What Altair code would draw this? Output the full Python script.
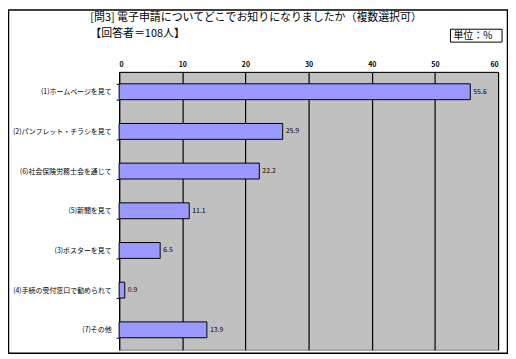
import altair as alt
import pandas as pd

categories = [
    "(1)ホームページを見て",
    "(2)パンフレット・チラシを見て",
    "(6)社会保険労務士会を通じて",
    "(5)新聞を見て",
    "(3)ポスターを見て",
    "(4)手続の受付窓口で勧められて",
    "(7)その他",
]
values = [55.6, 25.9, 22.2, 11.1, 6.5, 0.9, 13.9]
x_ticks = [0, 10, 20, 30, 40, 50, 60]
title_line1 = "[問3] 電子申請についてどこでお知りになりましたか（複数選択可）"
title_line2 = "【回答者＝108人】"
unit_label = "単位：%"

df = pd.DataFrame({"cat": categories, "val": values})
FONT = "Noto Sans CJK JP"
W, H = 382, 280

x_enc = alt.X("val:Q", scale=alt.Scale(domain=[0, 60], nice=False),
              axis=alt.Axis(orient="top", values=x_ticks, title=None, grid=True,
                            gridColor="black", gridWidth=1.2, domainColor="black",
                            ticks=False, labelFontSize=7, labelFont=FONT,
                            labelFontWeight="bold", labelPadding=4, labelColor="black"))
y_enc = alt.Y("cat:N", sort=categories,
              scale=alt.Scale(paddingInner=0.6, paddingOuter=0.3),
              axis=alt.Axis(title=None, labelFontSize=7, labelFont=FONT,
                            labelColor="black", labelPadding=5, labelLimit=200,
                            tickBand="extent",
                            tickSize=3, tickColor="black", domainColor="black",
                            domainWidth=1.2))

bars = alt.Chart(df).mark_bar(color="#9999FF", stroke="black", strokeWidth=1).encode(
    x=x_enc, y=y_enc)

labels = alt.Chart(df).mark_text(align="left", dx=3, fontSize=7, font=FONT,
                                 color="black").encode(
    x="val:Q", y=alt.Y("cat:N", sort=categories), text=alt.Text("val:Q", format=".1f"))

border = alt.Chart(pd.DataFrame({"a": [0]})).mark_rect(
    fill=None, stroke="black", strokeWidth=1.5).encode(
    x=alt.value(-111.5), x2=alt.value(W + 9.5), y=alt.value(-62.5), y2=alt.value(H + 3.5))

t1 = alt.Chart(pd.DataFrame({"t": [title_line1]})).mark_text(
    align="left", baseline="middle", fontSize=11, font=FONT, color="black").encode(
    x=alt.value(-29), y=alt.value(-54), text="t:N")
t2 = alt.Chart(pd.DataFrame({"t": [title_line2]})).mark_text(
    align="left", baseline="middle", fontSize=11, font=FONT, color="black").encode(
    x=alt.value(-29), y=alt.value(-38), text="t:N")

unit_box = alt.Chart(pd.DataFrame({"a": [0]})).mark_rect(
    fill="white", stroke="black", strokeWidth=1).encode(
    x=alt.value(334), x2=alt.value(386), y=alt.value(-43), y2=alt.value(-30))
unit_txt = alt.Chart(pd.DataFrame({"t": [unit_label]})).mark_text(
    align="left", baseline="middle", fontSize=10, font=FONT, color="black").encode(
    x=alt.value(337), y=alt.value(-36.5), text="t:N")

chart = alt.layer(bars, labels, border, t1, t2, unit_box, unit_txt).properties(
    width=W, height=H,
    autosize=alt.AutoSizeParams(type="none"),
    padding={"left": 112, "top": 63, "right": 10, "bottom": 6},
    background="white",
).configure_view(fill="#C0C0C0", stroke="#808080", strokeWidth=1)

chart.save("out.html", embed_options={"renderer": "svg", "actions": False})
